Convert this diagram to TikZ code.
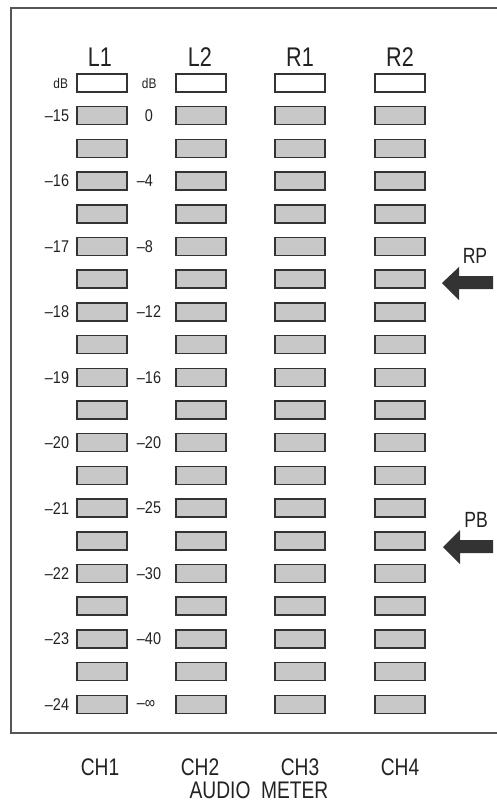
\documentclass[tikz,border=0pt]{standalone}
\usepackage{fontspec}
\setmainfont{Liberation Sans}
\newfontfamily\cond[FakeStretch=0.8]{Liberation Sans}
\newfontfamily\condn[FakeStretch=0.85]{Liberation Sans}
\usetikzlibrary{positioning}
\definecolor{boxc}{HTML}{333333}
\definecolor{boxf}{HTML}{C8C8C8}
\definecolor{framec}{HTML}{555555}
\definecolor{arrc}{HTML}{333333}
\definecolor{txt}{HTML}{222222}
\begin{document}
\begin{tikzpicture}[x=1pt,y=-1pt,
  meter/.style={draw=boxc, fill=boxf, line width=1.5pt, minimum width=50pt, minimum height=18pt, inner sep=0pt},
  toprow/.style={meter, fill=white},
  head/.style={font=\cond\fontsize{27}{27}\selectfont, text=txt, inner sep=0pt},
  scale lbl/.style={font=\condn\fontsize{17}{17}\selectfont, text=txt, inner sep=0pt},
  db lbl/.style={font=\condn\fontsize{14}{14}\selectfont, text=txt, inner sep=0pt},
  chlbl/.style={font=\cond\fontsize{24}{24}\selectfont, text=txt, inner sep=0pt},
  pointer/.style={fill=arrc, draw=none}]
\useasboundingbox (0,0) rectangle (497,809);
% frame
\draw[framec, line width=2pt] (497,8) -- (11,8) -- (11,733) -- (497,733);
% meter segments
\foreach \c/\x in {1/102,2/201,3/300,4/400}{
  \node[toprow] (b\c-0) at (\x,83) {};
  \foreach \r in {1,...,19}{
    \node[meter] (b\c-\r) at (\x,{83+32.7*\r}) {};
  }
}
% column heads
\node[head] (hL1) at (100,57) {L1};
\node[head] (hL2) at (200,57) {L2};
\node[head] (hR1) at (300,57) {R1};
\node[head] (hR2) at (400,57) {R2};
% scale labels L1
\node[db lbl, left=8pt of b1-0] (sa0) {dB};
\foreach \r/\t in {1/15,3/16,5/17,7/18,9/19,11/20,13/21,15/22,17/23,19/24}{
  \node[scale lbl, left=7pt of b1-\r] (sa\r) {–\t};
}
% scale labels L2
\node[db lbl, right=14pt of b1-0] (sb0) {dB};
\node[scale lbl, right=17pt of b1-1] (sb1) {0};
\foreach \r/\t in {3/4,5/8,7/12,9/16,11/20,13/25,15/30,17/40}{
  \node[scale lbl, right=9pt of b1-\r] (sb\r) {–\t};
}
\node[scale lbl, right=9pt of b1-19] (sb19) {–\char"221E};
% pointers
\node[head, font=\cond\fontsize{22}{22}\selectfont] (rp) at (475,256) {RP};
\node[head, font=\cond\fontsize{22}{22}\selectfont] (pb) at (476,520) {PB};
\fill[pointer] (442,283) -- (459,267) -- (459,276) -- (493,276) -- (493,289) -- (459,289) -- (459,300) -- cycle;
\fill[pointer] (443,547) -- (460,530) -- (460,540) -- (493,540) -- (493,553) -- (460,553) -- (460,564) -- cycle;
% channel labels
\node[chlbl] (ch1) at (100,767) {CH1};
\node[chlbl] (ch2) at (200,767) {CH2};
\node[chlbl] (ch3) at (300,767) {CH3};
\node[chlbl] (ch4) at (400,767) {CH4};
\node[chlbl] (title) at (259,790) {AUDIO\ \ METER};
\end{tikzpicture}
\end{document}
